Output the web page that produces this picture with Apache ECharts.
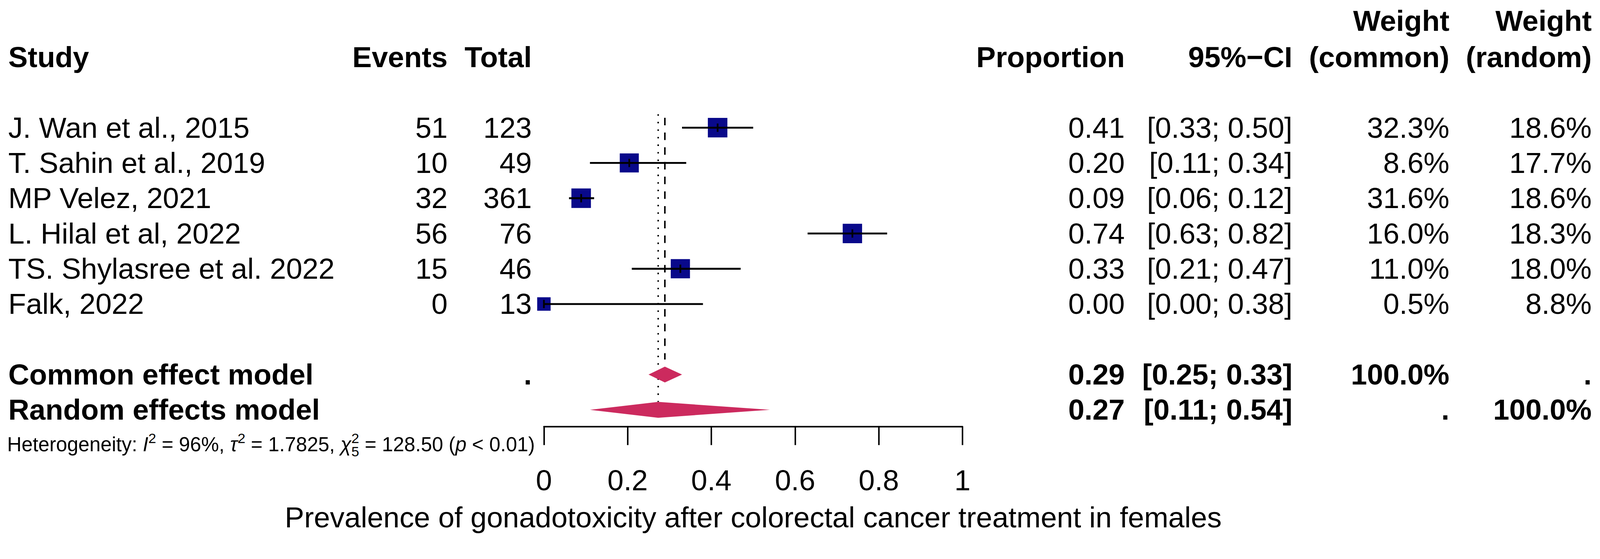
<!DOCTYPE html>
<html>
<head>
<meta charset="utf-8">
<script src="https://cdn.jsdelivr.net/npm/echarts@6/dist/echarts.min.js"></script>
<style>
html,body{margin:0;padding:0;background:#fff;overflow:hidden;}
#chart{width:100vw;height:100vh;}
</style>
</head>
<body>
<div id="chart"></div>
<script>
// ---------------- data ----------------
const studies = ["J. Wan et al., 2015", "T. Sahin et al., 2019", "MP Velez, 2021", "L. Hilal et al, 2022", "TS. Shylasree et al. 2022", "Falk, 2022"];
const events = [51, 10, 32, 56, 15, 0];
const totals = [123, 49, 361, 76, 46, 13];
const proportion = [0.415, 0.204, 0.089, 0.737, 0.326, 0.0];
const propLabels = ["0.41", "0.20", "0.09", "0.74", "0.33", "0.00"];
const ciLow = [0.33, 0.11, 0.06, 0.63, 0.21, 0.00];
const ciHigh = [0.50, 0.34, 0.12, 0.82, 0.47, 0.38];
const weightCommon = [32.3, 8.6, 31.6, 16.0, 11.0, 0.5];
const weightRandom = [18.6, 17.7, 18.6, 18.3, 18.0, 8.8];

const pooledNames = ["Common effect model", "Random effects model"];
const pooledEst = [0.289, 0.273];
const pooledLabels = ["0.29", "0.27"];
const pooledLow = [0.25, 0.11];
const pooledHigh = [0.33, 0.54];
const pooledWeightCommon = ["100.0%", "."];
const pooledWeightRandom = [".", "100.0%"];

const xTickValues = [0, 0.2, 0.4, 0.6, 0.8, 1];
const xAxisTitle = "Prevalence of gonadotoxicity after colorectal cancer treatment in females";
const het = { I2: "96%", tau2: "1.7825", Q: "128.50", df: "5", p: "< 0.01" };

// ---------------- layout (design units: 4239 x 1432) ----------------
const dom = document.getElementById('chart');
const W = dom.clientWidth || window.innerWidth;
const H = dom.clientHeight || window.innerHeight;
const S = W / 4239;
const px = v => v * S;
const FONT = "'Liberation Sans', Arial, Helvetica, sans-serif";
const FS = px(77);
const HFS = px(53);
const studyRows = studies.map((_, i) => i + 1);      // rows 1..6
const pooledRows = [8, 9];
const colStudyLeft = px(22), colEventsRight = px(1186), colTotalRight = px(1409);
const colPropRight = px(2980), colCIRight = px(3424), colWcRight = px(3840), colWrRight = px(4217);
const squareScale = px(12.0);
const diamondHalf = 0.225; // in row units
const ROWH = 93.5, GRID_TOP = 245, AXIS_Y = 1131;
const yMax = (AXIS_Y - GRID_TOP) / ROWH;

const chart = echarts.init(dom, null, { renderer: 'svg' });

const squareData = studies.map((s, i) => [proportion[i], studyRows[i], ciLow[i], ciHigh[i], weightRandom[i]]);
const diamondData = pooledNames.map((s, i) => [pooledEst[i], pooledRows[i], pooledLow[i], pooledHigh[i]]);

chart.setOption({
  animation: false,
  backgroundColor: '#ffffff',
  grid: { left: px(1441), right: W - px(2550), top: px(GRID_TOP), bottom: H - px(AXIS_Y), containLabel: false },
  xAxis: {
    type: 'value', min: 0, max: 1, interval: 0.2,
    axisLine: { show: true, onZero: false, lineStyle: { color: '#000', width: px(4) } },
    axisTick: { show: true, inside: false, length: px(49), lineStyle: { color: '#000', width: px(4) } },
    axisLabel: { show: true, fontFamily: FONT, fontSize: FS, color: '#000', margin: px(104),
      formatter: v => (xTickValues.indexOf(Math.round(v * 10) / 10) >= 0 ? String(Math.round(v * 10) / 10) : '') },
    splitLine: { show: false },
    name: xAxisTitle, nameLocation: 'middle', nameGap: px(203),
    nameTextStyle: { fontFamily: FONT, fontSize: FS, color: '#000' }
  },
  yAxis: { type: 'value', min: 0, max: yMax, inverse: true, show: false },
  series: [
    { type: 'line', silent: true, symbol: 'none', z: 1,
      data: [[pooledEst[1], 0.62], [pooledEst[1], pooledRows[1] - diamondHalf]],
      lineStyle: { color: '#000', width: px(4), type: [px(4), px(16)], cap: 'butt' } },
    { type: 'line', silent: true, symbol: 'none', z: 1,
      data: [[pooledEst[0], 0.72], [pooledEst[0], pooledRows[0] - diamondHalf - 0.2]],
      lineStyle: { color: '#000', width: px(4), type: [px(20), px(19)], cap: 'butt' } },
    { type: 'custom', z: 3, clip: false, data: squareData,
      renderItem: function (params, api) {
        const c = api.coord([api.value(0), api.value(1)]);
        const lo = api.coord([api.value(2), api.value(1)]);
        const hi = api.coord([api.value(3), api.value(1)]);
        const s = squareScale * Math.sqrt(api.value(4));
        return { type: 'group', children: [
          { type: 'rect', shape: { x: c[0] - s / 2, y: c[1] - s / 2, width: s, height: s },
            style: { fill: '#09098a', stroke: null } },
          { type: 'line', shape: { x1: lo[0], y1: c[1], x2: hi[0], y2: c[1] },
            style: { stroke: '#000', lineWidth: px(5) } },
          { type: 'line', shape: { x1: c[0], y1: c[1] - px(11), x2: c[0], y2: c[1] + px(11) },
            style: { stroke: '#000', lineWidth: px(4.5) } }
        ] };
      } },
    { type: 'custom', z: 3, clip: false, data: diamondData,
      renderItem: function (params, api) {
        const top = api.coord([api.value(0), api.value(1) - diamondHalf]);
        const bot = api.coord([api.value(0), api.value(1) + diamondHalf]);
        const lo = api.coord([api.value(2), api.value(1)]);
        const hi = api.coord([api.value(3), api.value(1)]);
        return { type: 'polygon', shape: { points: [lo, top, hi, bot] },
          style: { fill: '#cc2a5e', stroke: null } };
      } }
  ]
});

// ---------------- table text ----------------
// row -> pixel, same linear mapping as the (hidden) y axis, extended beyond its range
const y0 = chart.convertToPixel({ yAxisIndex: 0 }, 0);
const y1 = chart.convertToPixel({ yAxisIndex: 0 }, 1);
const rowY = r => y0 + r * (y1 - y0);
const els = [];
function txt(text, x, r, align, bold) {
  els.push({ type: 'text', silent: true, x: x, y: rowY(r),
    style: { text: text, fill: '#000', fontFamily: FONT, fontSize: FS,
      fontWeight: bold ? 'bold' : 'normal',
      align: align, verticalAlign: 'middle' } });
}
// headers
txt('Weight', colWcRight, -2.03, 'right', true);
txt('Weight', colWrRight, -2.03, 'right', true);
txt('Study', colStudyLeft, -1, 'left', true);
txt('Events', colEventsRight, -1, 'right', true);
txt('Total', colTotalRight, -1, 'right', true);
txt('Proportion', colPropRight, -1, 'right', true);
txt('95%\u2212CI', colCIRight, -1, 'right', true);
txt('(common)', colWcRight, -1, 'right', true);
txt('(random)', colWrRight, -1, 'right', true);
// studies
studies.forEach((s, i) => {
  const r = studyRows[i];
  txt(s, colStudyLeft, r, 'left', false);
  txt(String(events[i]), colEventsRight, r, 'right', false);
  txt(String(totals[i]), colTotalRight, r, 'right', false);
  txt(propLabels[i], colPropRight, r, 'right', false);
  txt('[' + ciLow[i].toFixed(2) + '; ' + ciHigh[i].toFixed(2) + ']', colCIRight, r, 'right', false);
  txt(weightCommon[i].toFixed(1) + '%', colWcRight, r, 'right', false);
  txt(weightRandom[i].toFixed(1) + '%', colWrRight, r, 'right', false);
});
// pooled
pooledNames.forEach((s, i) => {
  const r = pooledRows[i];
  txt(s, colStudyLeft, r, 'left', true);
  if (i === 0) txt('.', colTotalRight, r, 'right', true);
  txt(pooledLabels[i], colPropRight, r, 'right', true);
  txt('[' + pooledLow[i].toFixed(2) + '; ' + pooledHigh[i].toFixed(2) + ']', colCIRight, r, 'right', true);
  txt(pooledWeightCommon[i], colWcRight, r, 'right', true);
  txt(pooledWeightRandom[i], colWrRight, r, 'right', true);
});

// heterogeneity line (manual layout with sub/superscripts)
const mctx = document.createElement('canvas').getContext('2d');
function measure(t, size, italic) {
  mctx.font = (italic ? 'italic ' : '') + size + 'px ' + FONT;
  return mctx.measureText(t).width;
}
const baseline = rowY(10) + px(17);
const supSize = HFS * 0.7;
let hx = px(19);
function seg(t, kind) {
  let size = HFS, italic = false, dy = 0, adv = true;
  if (kind === 'i') italic = true;
  if (kind === 'sup') { size = supSize; dy = -0.42 * HFS; }
  if (kind === 'sub') { size = supSize; dy = 0.25 * HFS; }
  if (kind === 'supstack') { size = supSize; dy = -0.42 * HFS; adv = false; }
  els.push({ type: 'text', silent: true, x: hx, y: baseline + dy - 0.35 * size,
    style: { text: t, fill: '#000', fontFamily: FONT, fontSize: size,
      fontStyle: italic ? 'italic' : 'normal', align: 'left', verticalAlign: 'middle' } });
  if (adv) hx += measure(t, size, italic);
}
seg('Heterogeneity: ');
seg('I', 'i'); seg('2', 'sup');
seg(' = ' + het.I2 + ', ');
seg('\u03C4', 'i'); seg('2', 'sup');
seg(' = ' + het.tau2 + ', ');
seg('\u03C7', 'i'); seg('2', 'supstack'); seg(het.df, 'sub');
seg(' = ' + het.Q + ' (');
seg('p', 'i');
seg(' ' + het.p + ')');

chart.setOption({ graphic: { elements: els } });
</script>
</body>
</html>
